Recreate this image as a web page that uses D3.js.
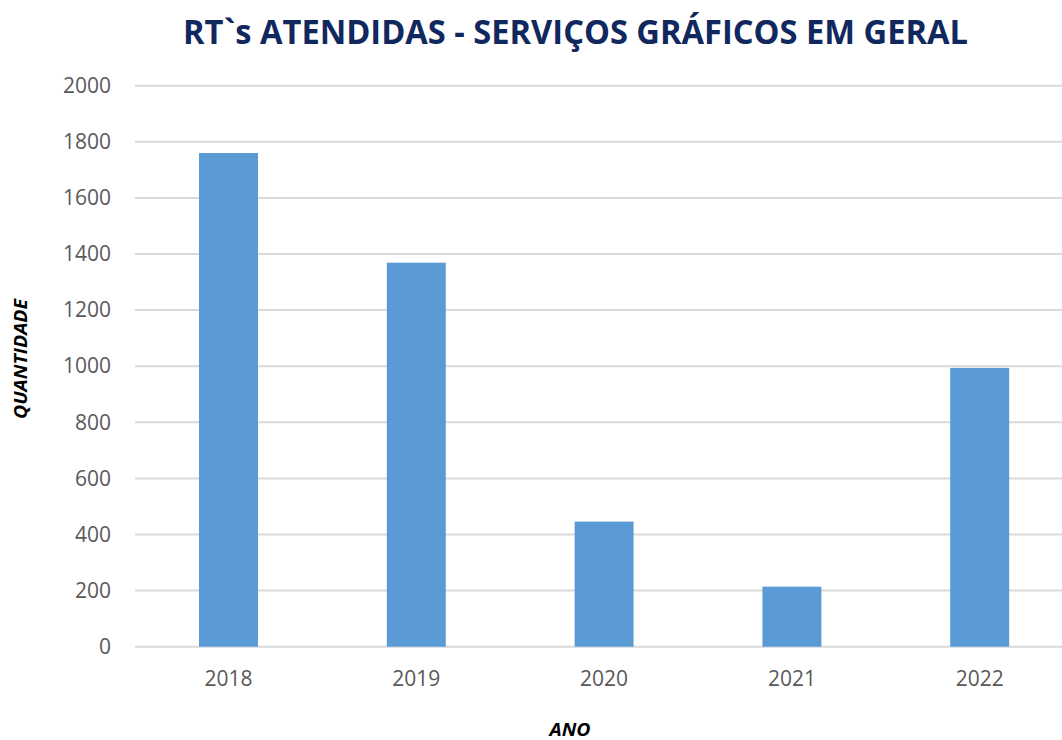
<!DOCTYPE html>
<html>
<head>
<meta charset="utf-8">
<script src="https://cdn.jsdelivr.net/npm/d3@7"></script>
<style>
  body { margin: 0; background: #fff; }
  svg { display: block; }
</style>
</head>
<body>
<svg width="1062" height="740"></svg>
<script>
const years = ["2018", "2019", "2020", "2021", "2022"];
const values = [1760, 1369, 446, 214, 994];
const yTicks = [0, 200, 400, 600, 800, 1000, 1200, 1400, 1600, 1800, 2000];

const svg = d3.select("svg");
const font = "'Open Sans', 'DejaVu Sans', sans-serif";

const x = d3.scaleBand()
  .domain(years)
  .range([134.6, 1073.6])
  .paddingInner(0.686)
  .paddingOuter(0.343);

const y = d3.scaleLinear()
  .domain([0, 2000])
  .range([646.7, 85.7]);

// gridlines
svg.append("g")
  .selectAll("line")
  .data(yTicks)
  .join("line")
  .attr("x1", 135)
  .attr("x2", 1074)
  .attr("y1", d => y(d))
  .attr("y2", d => y(d))
  .attr("stroke", "#d9d9d9")
  .attr("stroke-width", 2);

// y axis labels
const yAxis = d3.axisLeft(y).tickValues(yTicks).tickFormat(d3.format("d")).tickSize(0).tickPadding(0);
svg.append("g")
  .attr("transform", "translate(111,0)")
  .call(yAxis)
  .call(g => g.select(".domain").remove())
  .selectAll("text")
  .attr("font-family", font)
  .attr("font-size", 21)
  .attr("fill", "#595959");

// bars
svg.append("g")
  .selectAll("rect")
  .data(values)
  .join("rect")
  .attr("x", (d, i) => x(years[i]))
  .attr("width", x.bandwidth())
  .attr("y", d => y(d))
  .attr("height", d => y(0) - y(d))
  .attr("fill", "#5b9bd5");

// x axis labels
const xAxis = d3.axisBottom(x).tickSize(0).tickPadding(0);
svg.append("g")
  .attr("transform", "translate(0,671)")
  .call(xAxis)
  .call(g => g.select(".domain").remove())
  .selectAll("text")
  .attr("font-family", font)
  .attr("font-size", 21)
  .attr("fill", "#595959");

// title
svg.append("text")
  .attr("x", 575.5)
  .attr("y", 44)
  .attr("text-anchor", "middle")
  .attr("font-family", font)
  .attr("font-weight", "bold")
  .attr("font-size", 34)
  .attr("fill", "#10285e")
  .attr("textLength", 785)
  .attr("lengthAdjust", "spacingAndGlyphs")
  .text("RT`s ATENDIDAS - SERVIÇOS GRÁFICOS EM GERAL");

// axis titles
svg.append("text")
  .attr("transform", "translate(27,359) rotate(-90)")
  .attr("text-anchor", "middle")
  .attr("font-family", font)
  .attr("font-weight", "bold")
  .attr("font-style", "italic")
  .attr("font-size", 18)
  .attr("fill", "#000")
  .attr("textLength", 120)
  .attr("lengthAdjust", "spacingAndGlyphs")
  .text("QUANTIDADE");

svg.append("text")
  .attr("x", 570)
  .attr("y", 736)
  .attr("text-anchor", "middle")
  .attr("font-family", font)
  .attr("font-weight", "bold")
  .attr("font-style", "italic")
  .attr("font-size", 18)
  .attr("fill", "#000")
  .attr("textLength", 41)
  .attr("lengthAdjust", "spacingAndGlyphs")
  .text("ANO");
</script>
</body>
</html>
